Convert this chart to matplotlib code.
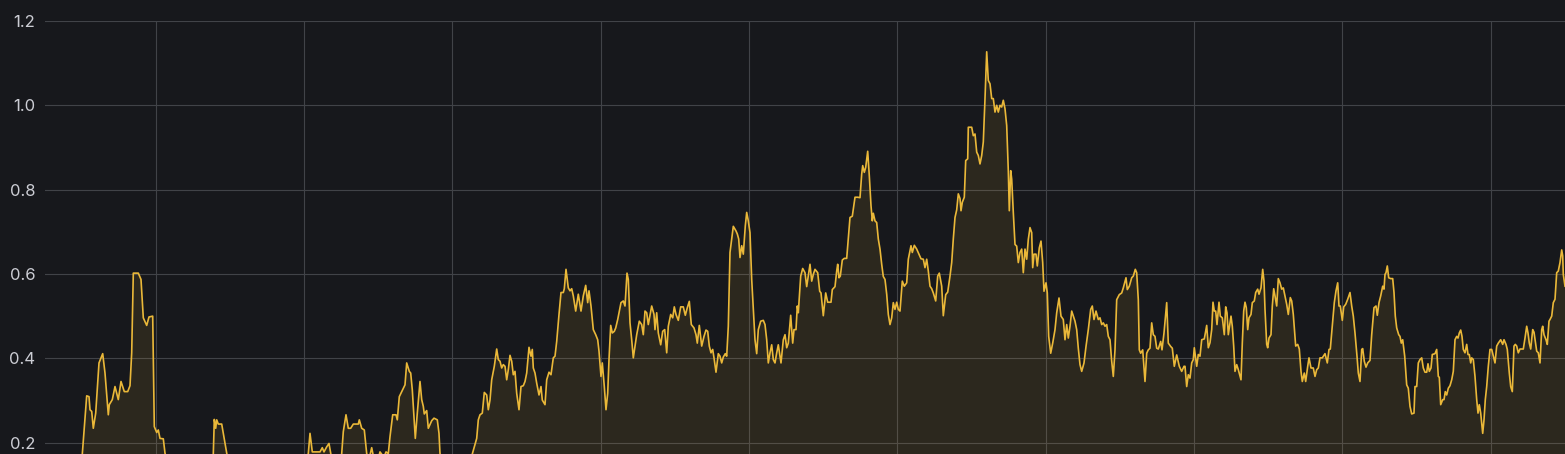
import numpy as np
import matplotlib
matplotlib.use("Agg")
import matplotlib.pyplot as plt

# ---- data (sample time in s, value) ----
t = [46, 80, 82.3, 86.7, 89, 90, 91.7, 93.3, 95.7, 99, 102.7, 105, 108.3, 109.3, 112.3, 115, 116.7, 118.3,
     121, 124.3, 127.7, 130, 131.7, 133.3, 138.3, 141, 143.3, 146.7, 149, 152.7, 154.3, 156.7, 158.3, 160,
     163.3, 165, 168, 210, 213.3, 214.3, 215.7, 216.7, 218.3, 221.7, 225, 226.7, 230, 305,
     308.3, 310, 312.3, 316.7, 320, 322.3, 324, 326.7, 329, 330.7, 333, 340, 341.7, 343.3, 346, 348.3,
     350.7, 353.3, 358.3, 359.3, 361.7, 364.3, 366.7, 369, 371.7, 374, 378, 380, 384, 386, 388.3, 390,
     392.7, 396, 397.3, 399.3, 401.7, 404, 405, 406.7, 409.3, 410.7, 412.3, 414, 415.3, 417.3, 420, 421.7,
     423.3, 424.3, 426.7, 428.3, 431.7, 434, 437.3, 439, 440, 443, 470,
     472.3, 474.3, 476.7, 478.3, 480, 482.3, 484.3, 486.7, 488.3, 490, 491.7, 494.3, 496.7, 498.3, 500,
     501.7, 503.3, 505, 506.7, 508.3, 510, 511.7, 513.3, 515, 516.7, 519, 521, 523.3, 525, 526.7, 529,
     531, 532.3, 533.3, 535, 536.7, 539, 541, 542.3, 545, 546.7, 549, 551, 553.3, 555, 556.7, 559, 561,
     563.3, 564.3, 566, 568.3, 570, 571.7, 573.3, 575.7, 578.3, 581, 583.3, 585.7, 587.7, 589, 591,
     593.3, 595.7, 597.7, 599, 601, 602.3, 604.3, 606, 607.7, 609, 610.7, 612.3, 614.3, 615.7, 617.7,
     619, 621, 623.3, 625, 627, 628.3, 630,
     631.7, 633.3, 635, 636.7, 639.3, 641.7, 643.3, 645, 646.7, 648.3, 651.7, 654, 655, 656.7, 658.3,
     660.7, 662.7, 664.7, 666.7, 668.3, 670.7, 672.7, 674.3, 676, 678.3, 680.7, 683.3, 685.3, 687.3,
     689.3, 691.3, 694, 696, 697.3, 699.3, 701.7, 704, 706, 707.7, 709.3, 711, 712.7, 714, 716, 718.3,
     720, 721.7, 723.3, 725.3, 726.7, 728.3, 730, 733.3, 736, 737.3, 738.7, 740, 741.7, 743.3, 745.3,
     746.7, 748.3, 750, 751.7, 753.3, 755, 756.7, 758.3, 760.7, 763.3, 765, 766.7, 768.3, 770, 771.7,
     773.3, 775, 776.7, 778.3, 781, 783.3, 785, 786.7, 788.3, 790.7, 792.7, 794, 796, 797.3, 798.3,
     800.7, 802.7, 805, 806.7, 808.3, 810, 811.7, 813.3, 815,
     817.7, 819.7, 821, 823.3, 825.7, 827.7, 831, 832.3, 835, 836.7, 837.7, 839, 840.3, 842.3, 844.3,
     846.7, 848.3, 850, 852.3, 855, 857.7, 860, 861.7, 862.7, 864.3, 865.7, 867.7, 869.3, 871, 872.3,
     873.3, 875, 876.7, 878.3, 880, 881.7, 883.3, 885, 886.7, 888.3, 890, 891.7, 893.3, 895, 896.7,
     898.3, 900, 902.3, 904.3, 906.7, 908.3, 911, 912.3, 914.3, 916.7, 919, 921, 923.3, 925, 926.7,
     928.3, 930, 931.7, 933.3, 935.7, 937.7, 939.3, 941.7, 943.3, 945.7, 947.7, 950, 951.7, 953.3, 955,
     956.7, 958.3, 960, 961, 962.3, 964.3, 965.7, 967.7,
     968.3, 971.7, 973.3, 975, 976.7, 978.3, 980, 981.7, 983.3, 985, 986.7, 988.3, 990, 991.7, 993.3,
     995, 996.7, 998.3, 1000, 1001.7, 1003.3, 1005, 1006.7, 1008.3, 1009.3, 1010.7, 1011.7, 1013.3,
     1015, 1016.7, 1018.3, 1020, 1021.7, 1023.3, 1025, 1026.7, 1028.3, 1030, 1031.7, 1032.7, 1034,
     1036, 1037.3, 1039.3, 1041, 1042.7, 1044, 1046, 1047.3, 1048.7, 1050.7, 1052.7, 1055, 1056.7,
     1059, 1061, 1063.3, 1065, 1066.7, 1068.3, 1070, 1071.7, 1073.3, 1075, 1076.7, 1078.3, 1080,
     1081.7, 1084, 1086, 1088.3, 1090.7, 1092.3, 1094, 1096, 1098.3, 1100, 1101.7, 1103.3, 1105,
     1106.7, 1108.3, 1110, 1111.7, 1113.3, 1115, 1116.7, 1119.3, 1121.7, 1123.3, 1126, 1127.3, 1129.3,
     1131.7, 1133.3, 1135.3, 1136.7, 1138.3, 1139.3, 1140.7, 1142.7, 1145, 1146.7, 1148.3, 1150,
     1151.7, 1153.3, 1155, 1156.7, 1158.3, 1160.7, 1162, 1164, 1166.7, 1168.3, 1170.7, 1172.3, 1174.3,
     1176.7, 1179.3, 1181.7, 1184,
     1185, 1186.7, 1188.3, 1190, 1191.7, 1193.3, 1194.3, 1196.7, 1198.3, 1200, 1201.7, 1204.3, 1205.7,
     1206.7, 1208.3, 1210, 1211.7, 1213, 1214.3, 1215.7, 1217, 1219, 1220.3, 1222.3, 1224.3, 1225.7,
     1227, 1228.3, 1231, 1232.3, 1233.7, 1235, 1236.7, 1238.3, 1241, 1242.3, 1243.7, 1245, 1246.3,
     1247.7, 1249, 1251, 1252.3, 1254.3, 1255.7, 1257.7, 1259, 1261, 1262.7, 1264, 1265, 1266.7,
     1267.7, 1269, 1271, 1272.3, 1273.7, 1275, 1276.7, 1278.3, 1280, 1281.7, 1283.3, 1285, 1286.7,
     1288.3, 1290.3, 1291.7, 1293.3, 1295.7, 1297.7, 1299.3, 1301, 1302.3, 1304.3, 1305.7, 1307.7,
     1309, 1311, 1313.3, 1315, 1316.7, 1318.3, 1320, 1322.3, 1325, 1327.3, 1329, 1330.3, 1332.3,
     1334.3, 1336, 1337.7, 1339, 1340.3, 1342.3, 1343.7, 1345.7, 1347.7, 1350, 1351.7, 1353.3, 1355,
     1357, 1358.3, 1360, 1361.7, 1362.7, 1364.3, 1366, 1367.7, 1369.3,
     1370, 1371.7, 1374, 1376, 1377.3, 1379, 1380.7, 1382.7, 1384, 1385, 1386, 1387.3, 1388.7, 1390.7,
     1392.7, 1394, 1395.3, 1396.7, 1398.7, 1400, 1401.3, 1402.7, 1404.7, 1406.7, 1408.3, 1410, 1411.7,
     1414, 1415, 1416.7, 1418.3, 1420, 1421.7, 1423.3, 1425, 1426.7, 1428, 1429.3, 1431, 1432.3, 1435,
     1436.7, 1438.3, 1439.3, 1440.7, 1442.7, 1444, 1445.3, 1446.7, 1448.3, 1450, 1451.7, 1453.3, 1455,
     1456.7, 1458, 1459.3, 1460.7, 1462, 1463.3, 1465, 1466.7, 1468, 1469.3, 1470.7, 1471.7, 1473.3,
     1475, 1476.7, 1478, 1479.3, 1480.7, 1482.7, 1484, 1485.3, 1486.7, 1488.3, 1490, 1491.7, 1493.3,
     1495, 1496.7, 1498.3, 1500.7, 1502.7, 1504, 1506, 1507.3, 1509.3, 1510.7, 1512.3, 1514, 1515.3,
     1516.7, 1518.3, 1520, 1523.3, 1525, 1526.7, 1528, 1529.3, 1530.7, 1532.7, 1534, 1535.7, 1536.7,
     1538.3, 1540, 1541.7, 1542.7, 1544, 1546, 1547.3, 1549, 1550, 1551.7, 1553.3, 1555, 1556.7,
     1558.3, 1560, 1561.7, 1562.7, 1563.3, 1565]

values = [0.14, 0.15, 0.173, 0.311, 0.309, 0.278, 0.274, 0.234, 0.270, 0.389, 0.411, 0.365, 0.266, 0.290, 0.302, 0.333, 0.317, 0.302,
          0.345, 0.321, 0.321, 0.335, 0.413, 0.602, 0.602, 0.587, 0.496, 0.478, 0.498, 0.500, 0.238, 0.224, 0.230, 0.210,
          0.209, 0.175, 0.15, 0.15, 0.173, 0.255, 0.234, 0.254, 0.244, 0.244, 0.198, 0.173, 0.15, 0.15,
          0.174, 0.222, 0.178, 0.178, 0.178, 0.188, 0.178, 0.190, 0.198, 0.174, 0.15, 0.15, 0.174, 0.226, 0.266, 0.234,
          0.234, 0.244, 0.244, 0.254, 0.234, 0.230, 0.174, 0.16, 0.188, 0.16, 0.16, 0.178, 0.165, 0.178, 0.174, 0.214,
          0.266, 0.266, 0.254, 0.309, 0.321, 0.333, 0.337, 0.389, 0.369, 0.365, 0.325, 0.262, 0.210, 0.270, 0.345, 0.302,
          0.286, 0.268, 0.276, 0.234, 0.252, 0.258, 0.254, 0.222, 0.174, 0.15, 0.15,
          0.173, 0.190, 0.210, 0.254, 0.266, 0.270, 0.319, 0.313, 0.278, 0.301, 0.349, 0.381, 0.422, 0.397, 0.393,
          0.377, 0.385, 0.381, 0.349, 0.373, 0.407, 0.393, 0.361, 0.369, 0.317, 0.278, 0.333, 0.335, 0.345, 0.365, 0.426,
          0.405, 0.421, 0.377, 0.365, 0.341, 0.313, 0.333, 0.301, 0.290, 0.349, 0.367, 0.361, 0.401, 0.405, 0.440, 0.504, 0.556,
          0.556, 0.565, 0.611, 0.567, 0.560, 0.565, 0.548, 0.512, 0.552, 0.512, 0.548, 0.573, 0.532, 0.560, 0.524,
          0.468, 0.456, 0.444, 0.417, 0.357, 0.389, 0.333, 0.278, 0.317, 0.397, 0.478, 0.460, 0.464, 0.472, 0.492,
          0.508, 0.532, 0.536, 0.524, 0.602, 0.587, 0.484,
          0.444, 0.401, 0.429, 0.456, 0.488, 0.480, 0.456, 0.512, 0.508, 0.480, 0.524, 0.504, 0.468, 0.508, 0.460,
          0.432, 0.464, 0.468, 0.413, 0.476, 0.504, 0.496, 0.522, 0.504, 0.490, 0.522, 0.522, 0.502, 0.520,
          0.535, 0.480, 0.472, 0.456, 0.436, 0.478, 0.429, 0.452, 0.467, 0.464, 0.429, 0.413, 0.421, 0.401, 0.367, 0.411,
          0.405, 0.389, 0.403, 0.411, 0.405, 0.476, 0.651, 0.713, 0.702, 0.695, 0.683, 0.639, 0.667, 0.647, 0.714,
          0.746, 0.726, 0.698, 0.587, 0.516, 0.444, 0.411, 0.468, 0.488, 0.490, 0.480, 0.444, 0.389, 0.413, 0.432,
          0.397, 0.389, 0.413, 0.432, 0.389, 0.444, 0.456, 0.425, 0.436, 0.502, 0.436, 0.468, 0.468, 0.524, 0.508,
          0.595, 0.613, 0.603, 0.570, 0.595, 0.623, 0.583, 0.599, 0.611,
          0.603, 0.559, 0.555, 0.501, 0.555, 0.533, 0.533, 0.563, 0.570, 0.607, 0.623, 0.591, 0.595, 0.633, 0.637,
          0.637, 0.683, 0.734, 0.737, 0.782, 0.782, 0.781, 0.837, 0.857, 0.841, 0.853, 0.891, 0.833, 0.762, 0.726,
          0.744, 0.726, 0.722, 0.683, 0.659, 0.623, 0.594, 0.587, 0.552, 0.504, 0.480, 0.496, 0.532, 0.516, 0.533,
          0.516, 0.512, 0.583, 0.571, 0.579, 0.635, 0.667, 0.651, 0.668, 0.659, 0.647, 0.636, 0.635, 0.615, 0.635,
          0.607, 0.571, 0.565, 0.555, 0.536, 0.595, 0.602, 0.571, 0.501, 0.551, 0.557, 0.595, 0.627, 0.683, 0.734,
          0.752, 0.790, 0.779, 0.750, 0.770, 0.782, 0.869, 0.873,
          0.948, 0.948, 0.928, 0.932, 0.889, 0.881, 0.861, 0.881, 0.913, 1.016, 1.127, 1.059, 1.051, 1.016, 1.016,
          0.984, 1.000, 0.984, 1.000, 0.996, 1.012, 0.992, 0.952, 0.845, 0.750, 0.845, 0.825, 0.746,
          0.670, 0.666, 0.627, 0.651, 0.659, 0.603, 0.659, 0.635, 0.682, 0.710, 0.698, 0.615, 0.647,
          0.647, 0.619, 0.662, 0.678, 0.627, 0.559, 0.579, 0.555, 0.452, 0.412, 0.436, 0.468, 0.508,
          0.543, 0.500, 0.492, 0.444, 0.480, 0.448, 0.476, 0.512, 0.500, 0.488, 0.468, 0.424, 0.385,
          0.369, 0.389, 0.428, 0.468, 0.516, 0.524, 0.492, 0.512, 0.492, 0.496, 0.480, 0.484, 0.476,
          0.480, 0.452, 0.444, 0.393, 0.357, 0.420, 0.539, 0.551, 0.555, 0.567, 0.591, 0.563, 0.571,
          0.591, 0.595, 0.611, 0.603, 0.539, 0.420, 0.412, 0.420, 0.345, 0.412, 0.420, 0.424,
          0.484, 0.456, 0.452, 0.424, 0.422, 0.440, 0.420, 0.460, 0.532, 0.436, 0.428, 0.424, 0.381,
          0.408, 0.381, 0.369, 0.381,
          0.381, 0.333, 0.361, 0.353, 0.389, 0.397, 0.425, 0.381, 0.409, 0.405, 0.444, 0.446, 0.464,
          0.478, 0.425, 0.437, 0.468, 0.533, 0.512, 0.512, 0.480, 0.533, 0.500, 0.496, 0.456, 0.522,
          0.508, 0.456, 0.500, 0.476, 0.429, 0.369, 0.385, 0.373, 0.349, 0.436, 0.512, 0.533, 0.520,
          0.468, 0.496, 0.504, 0.532, 0.536, 0.556, 0.564, 0.552, 0.567, 0.611, 0.583, 0.516, 0.433,
          0.425, 0.448, 0.456, 0.524, 0.565, 0.548, 0.524, 0.589, 0.579, 0.564, 0.567, 0.548, 0.528,
          0.504, 0.544, 0.536, 0.504, 0.429, 0.433, 0.422, 0.369, 0.345, 0.365, 0.345, 0.381,
          0.401, 0.377, 0.377, 0.357, 0.373, 0.377, 0.401, 0.401, 0.411, 0.389, 0.421, 0.422, 0.476,
          0.532, 0.560, 0.579, 0.524, 0.524, 0.490, 0.522, 0.528, 0.540, 0.556, 0.524, 0.500, 0.460,
          0.405, 0.365, 0.345, 0.421, 0.423, 0.393, 0.379, 0.389, 0.393,
          0.395, 0.456, 0.520, 0.524, 0.502, 0.532, 0.548, 0.571, 0.564, 0.599, 0.603, 0.619, 0.591, 0.589,
          0.589, 0.556, 0.500, 0.472, 0.456, 0.452, 0.436, 0.444, 0.405, 0.337, 0.329, 0.286, 0.268,
          0.270, 0.333, 0.333, 0.389, 0.397, 0.401, 0.377, 0.367, 0.367, 0.387, 0.369, 0.377, 0.409, 0.411,
          0.421, 0.357, 0.355, 0.290, 0.302, 0.302, 0.321, 0.313, 0.329, 0.335, 0.349, 0.369, 0.444,
          0.452, 0.448, 0.460, 0.467, 0.452, 0.421, 0.413, 0.433, 0.409, 0.409, 0.389, 0.401, 0.397,
          0.357, 0.302, 0.270, 0.290, 0.270, 0.222, 0.254, 0.302, 0.333, 0.381, 0.421, 0.421, 0.405,
          0.389, 0.429, 0.436, 0.444, 0.433, 0.444, 0.433, 0.421, 0.365, 0.333, 0.321, 0.429, 0.433,
          0.429, 0.413, 0.422, 0.422, 0.448, 0.476, 0.460, 0.436, 0.422, 0.468, 0.462, 0.433, 0.417,
          0.413, 0.389, 0.468, 0.476, 0.456, 0.444, 0.433, 0.488, 0.492, 0.500, 0.532, 0.540, 0.603,
          0.607, 0.627, 0.657, 0.643, 0.599, 0.571]

y_ticks = [0.2, 0.4, 0.6, 0.8, 1.0, 1.2]
y_tick_labels = ["0.2", "0.4", "0.6", "0.8", "1.0", "1.2"]

# ---- style ----
BG = "#17181c"
GRID = "#414348"
LINE = "#eab839"
TEXT = "#cccdd4"

plt.rcParams["font.family"] = ["Inter", "DejaVu Sans"]

W, H = 1565, 454
fig = plt.figure(figsize=(W / 100, H / 100), dpi=100, facecolor=BG)
ax = fig.add_axes([45 / W, 0, 1 - 45 / W, (H - 21) / H], facecolor=BG)

tt = np.array(t, dtype=float)
vv = np.array(values, dtype=float)

ax.fill_between(tt, vv, 0, color=LINE, alpha=0.10, linewidth=0, zorder=2)
ax.plot(tt, vv, color=LINE, linewidth=1.2, zorder=3)

ax.set_xlim(45, 1565)
ax.set_ylim(0.173, 1.2)

grid_start, grid_step = 155.7, 148.33
ax.set_xticks(grid_start + grid_step * np.arange(10))
ax.set_xticklabels([])
ax.set_yticks(y_ticks)
ax.set_yticklabels(y_tick_labels)
ax.tick_params(axis="both", length=0, colors=TEXT, labelsize=12)
ax.tick_params(axis="y", pad=7)
ax.grid(True, color=GRID, linewidth=0.8, zorder=1)
ax.set_axisbelow(True)
for s in ax.spines.values():
    s.set_visible(False)

fig.savefig("out.png", dpi=100, facecolor=BG)
